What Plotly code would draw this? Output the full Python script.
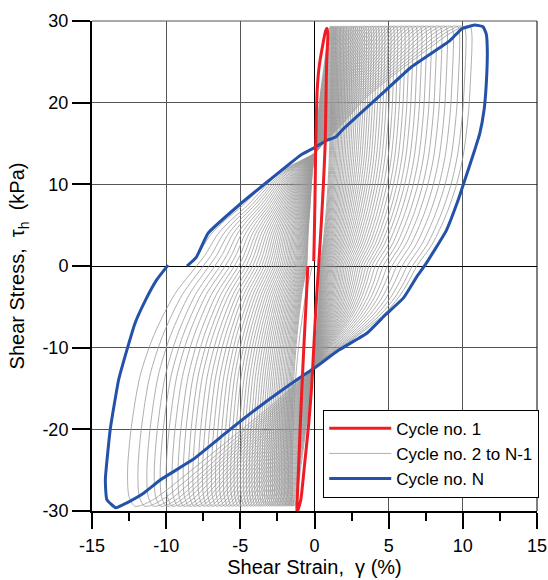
import plotly.graph_objects as go

# ---------------- axis ticks ----------------
strain_ticks = [-15, -10, -5, 0, 5, 10, 15]
strain_labels = ["-15", "-10", "-5", "0", "5", "10", "15"]
stress_ticks = [-30, -20, -10, 0, 10, 20, 30]
stress_labels = ["-30", "-20", "-10", "0", "10", "20", "30"]

# ---------------- Cycle no. 1 (red) ----------------
red_strain = [-0.45, -0.58, -0.72, -0.85, -0.97, -1.08, -1.17, -1.19, -1.10, -0.92,
              -0.68, -0.40, -0.20, -0.05, 0.10, 0.28, 0.45, 0.60, 0.72, 0.77,
              0.82, 0.90, 0.85, 0.75, 0.55, 0.32, 0.19, 0.12, 0.07, 0.03,
              -0.02, -0.05]
red_stress = [0.0, -5.0, -10.0, -15.0, -20.0, -25.0, -28.8, -30.2, -29.8, -28.6,
              -24.5, -19.5, -15.0, -10.0, -5.0, 0.0, 5.0, 10.0, 15.0, 20.0,
              25.0, 28.3, 29.1, 28.8, 27.0, 24.5, 21.8, 18.0, 13.0, 8.0,
              3.0, 0.6]

# ---------------- Cycle no. N (blue) ----------------
blue_strain = [-9.87, -10.64, -11.40, -12.10, -12.65, -13.20, -13.77, -14.10, -14.00, -13.40,
               -12.65, -11.50, -10.40, -8.20, -5.95, -3.70, -0.92, 0.00, 1.64, 3.55,
               4.77, 6.00, 6.90, 7.45, 8.90, 9.69, 10.13, 10.80, 11.14, 11.43,
               11.58, 11.65, 11.58, 11.36, 10.80, 9.90, 9.13, 6.55, 4.32, 1.90,
               1.43, 0.85, 0.00, -0.92, -3.05, -5.06, -7.18, -7.96, -8.60]
blue_stress = [0.1, -1.7, -4.2, -7.0, -10.3, -13.9, -20.0, -26.2, -28.6, -29.6,
               -29.0, -27.8, -26.2, -23.7, -20.4, -17.2, -13.6, -12.5, -10.3, -8.2,
               -6.0, -3.9, -1.3, 0.1, 4.4, 8.1, 10.5, 14.2, 16.2, 19.1,
               22.3, 26.4, 28.4, 29.3, 29.5, 29.0, 27.6, 24.4, 20.7, 16.7,
               15.8, 15.4, 14.5, 13.6, 10.5, 7.5, 4.0, 1.1, 0.0]

# ---------------- Cycles no. 2 to N-1 (grey) ----------------
# strain at the left-most point of each loop (about -25 kPa)
gray_left_peak = [-1.50, -1.58, -1.66, -1.75, -1.84, -1.93, -2.03, -2.13, -2.24, -2.35,
                  -2.47, -2.59, -2.71, -2.84, -2.97, -3.11, -3.25, -3.40, -3.55, -3.71,
                  -3.87, -4.04, -4.22, -4.40, -4.59, -4.79, -4.99, -5.20, -5.42, -5.65,
                  -5.89, -6.14, -6.40, -6.67, -6.95, -7.25, -7.55, -7.85, -8.20, -8.50,
                  -8.85, -9.20, -9.60, -10.00, -10.40, -10.80, -11.30, -11.90, -12.60]
# strain at the stress peak of each loop (+29.3 kPa)
gray_top_peak = [1.10, 1.17, 1.24, 1.31, 1.39, 1.47, 1.55, 1.64, 1.73, 1.83,
                 1.93, 2.03, 2.14, 2.25, 2.37, 2.49, 2.61, 2.74, 2.87, 3.01,
                 3.15, 3.30, 3.45, 3.61, 3.77, 3.94, 4.11, 4.29, 4.48, 4.67,
                 4.87, 5.08, 5.30, 5.53, 5.77, 6.02, 6.28, 6.55, 6.84, 7.14,
                 7.45, 7.78, 8.12, 8.48, 8.86, 9.26, 9.68, 10.10, 10.50]
# strain where the loading branch crosses 0 kPa
gray_load_zero = [0.36, 0.39, 0.42, 0.45, 0.48, 0.52, 0.56, 0.60, 0.65, 0.70,
                  0.75, 0.80, 0.86, 0.92, 0.98, 1.05, 1.12, 1.19, 1.27, 1.35,
                  1.43, 1.52, 1.61, 1.71, 1.81, 1.92, 2.03, 2.15, 2.27, 2.40,
                  2.53, 2.67, 2.82, 2.97, 3.13, 3.30, 3.48, 3.67, 3.86, 4.10,
                  4.36, 4.63, 4.92, 5.22, 5.55, 5.90, 6.25, 6.60, 6.90]
# strain where the unloading branch crosses 0 kPa (start of each cycle, plus the end)
gray_unload_zero = [-0.15, -0.52, -0.55, -0.59, -0.63, -0.67, -0.72, -0.77, -0.82, -0.88,
                    -0.94, -1.00, -1.07, -1.14, -1.21, -1.29, -1.37, -1.46, -1.55, -1.65,
                    -1.75, -1.85, -1.96, -2.08, -2.20, -2.33, -2.46, -2.60, -2.74, -2.89,
                    -3.05, -3.21, -3.38, -3.56, -3.75, -3.95, -4.16, -4.38, -4.62, -4.86,
                    -5.12, -5.40, -5.70, -6.02, -6.36, -6.72, -7.10, -7.50, -7.95, -8.50]

# points where the loading / unloading branches of all loops meet
pinch_load = (-0.05, -12.3)
pinch_unload = (0.0, 13.8)

# branch profiles: (fraction of the way between anchors, stress)
desc_low_f = [0.0, 0.32, 0.62, 0.82, 0.95, 1.0, 0.98, 0.90]
desc_low_y = [0.0, -3.5, -8.5, -13.5, -20.0, -25.0, -28.2, -29.4]
load1_f = [0.04, 0.12, 0.25, 0.42, 0.60, 0.80, 1.0]
load1_y = [-29.3, -28.4, -26.2, -23.2, -20.0, -16.4, -12.3]
load2_f = [0.16, 0.46, 0.68, 0.82, 0.92, 1.0]
load2_y = [-10.9, -8.2, -5.9, -3.9, -1.9, 0.0]
load3_f = [0.29, 0.55, 0.74, 0.87, 0.97, 1.01, 1.03, 1.03, 1.0]
load3_y = [2.7, 6.3, 9.9, 13.6, 19.0, 23.5, 26.5, 28.4, 29.3]
desc1_f = [0.96, 0.87, 0.76, 0.55, 0.33, 0.17, 0.08, 0.0]
desc1_y = [29.35, 28.5, 27.0, 24.0, 20.6, 17.2, 15.5, 13.8]
desc2_f = [0.11, 0.27, 0.38, 0.57, 0.71, 0.82, 0.93]
desc2_y = [12.9, 11.6, 10.3, 7.4, 5.6, 3.9, 1.3]

gx, gy = [], []
for k in range(len(gray_top_peak)):
    d0, bm = gray_unload_zero[k], gray_left_peak[k]
    for f, y in zip(desc_low_f, desc_low_y):
        gx.append(d0 + f * (bm - d0)); gy.append(y)
    xb = gx[-1]
    for f, y in zip(load1_f, load1_y):
        gx.append(xb + f * (pinch_load[0] - xb)); gy.append(y)
    l0 = gray_load_zero[k]
    for f, y in zip(load2_f, load2_y):
        gx.append(pinch_load[0] + f * (l0 - pinch_load[0])); gy.append(y)
    tp = gray_top_peak[k]
    for f, y in zip(load3_f, load3_y):
        gx.append(l0 + f * (tp - l0)); gy.append(y)
    for f, y in zip(desc1_f, desc1_y):
        gx.append(pinch_unload[0] + f * (tp - pinch_unload[0])); gy.append(y)
    dn = gray_unload_zero[k + 1]
    for f, y in zip(desc2_f, desc2_y):
        gx.append(pinch_unload[0] + f * (dn - pinch_unload[0])); gy.append(y)
gx.append(gray_unload_zero[-1]); gy.append(0.0)

fig = go.Figure()
fig.add_trace(go.Scatter(x=gx, y=gy, mode="lines", name="Cycle no. 2 to N-1",
                         line=dict(color="#9a9a9a", width=0.8, shape="spline", smoothing=0.8),
                         legendrank=2))
fig.add_trace(go.Scatter(x=blue_strain, y=blue_stress, mode="lines", name="Cycle no. N",
                         line=dict(color="#2352a8", width=3, shape="spline", smoothing=0.4),
                         legendrank=3))
fig.add_trace(go.Scatter(x=red_strain, y=red_stress, mode="lines", name="Cycle no. 1",
                         line=dict(color="#ee1c25", width=3, shape="spline", smoothing=0.6),
                         legendrank=1))

font = "Arial, Liberation Sans, sans-serif"
nb = "\u00a0"
fig.update_layout(
    width=548, height=580,
    margin=dict(l=92, r=9, t=21, b=69),
    paper_bgcolor="white", plot_bgcolor="white",
    font=dict(family=font, size=18, color="black"),
    showlegend=True,
    legend=dict(x=1.005, xanchor="right", y=0.027, yanchor="bottom",
                bgcolor="white", bordercolor="black", borderwidth=1,
                font=dict(size=17), tracegroupgap=0, itemwidth=62),
    xaxis=dict(range=[-15, 15], tickmode="array", tickvals=strain_ticks, ticktext=strain_labels,
               automargin=False,
               showgrid=True, gridcolor="#555555",
               gridwidth=1, zeroline=True, zerolinecolor="black", zerolinewidth=1,
               showline=True, linecolor="black", linewidth=2,
               ticks="outside", ticklen=16, tickwidth=2, tickcolor="black",
               ticklabelstandoff=1,
               minor=dict(dtick=2.5, ticks="outside", ticklen=8, tickwidth=2,
                          tickcolor="black", showgrid=False),
               title=dict(text=f"Shear Strain,{nb}{nb}\u03b3 (%)", font=dict(size=20), standoff=5)),
    yaxis=dict(range=[-30, 30], tickmode="array", tickvals=stress_ticks, ticktext=stress_labels,
               automargin=False,
               showgrid=True, gridcolor="#555555",
               gridwidth=1, zeroline=True, zerolinecolor="black", zerolinewidth=1,
               showline=True, linecolor="black", linewidth=2,
               ticks="outside", ticklen=18, tickwidth=2, tickcolor="black",
               ticklabelstandoff=0,
               title=dict(text=f"Shear Stress,{nb}{nb}\u03c4<sub>h</sub>{nb}{nb}(kPa)",
                          font=dict(size=20), standoff=12)),
    shapes=[
        dict(type="line", xref="paper", yref="paper", x0=0, x1=1, y0=1, y1=1,
             line=dict(color="#555555", width=1)),
        dict(type="line", xref="paper", yref="paper", x0=1, x1=1, y0=0, y1=1,
             line=dict(color="black", width=1)),
    ],
)

fig.write_html("out.html")
